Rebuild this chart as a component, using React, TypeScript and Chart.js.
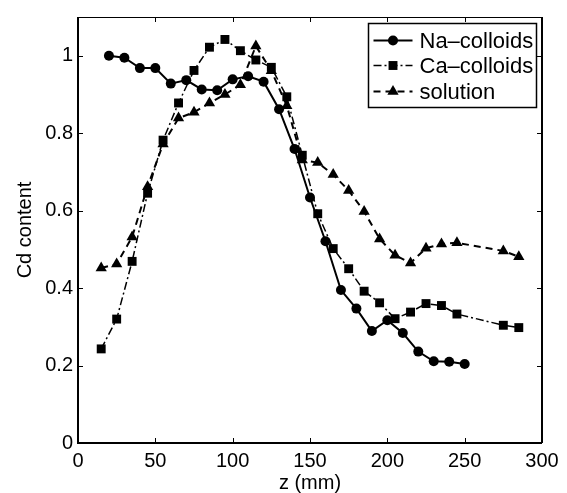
import React, { useEffect, useRef } from "react";
import { Chart, registerables } from "chart.js";

Chart.register(...registerables);

const FONT = "'Liberation Sans', Arial, Helvetica, sans-serif";

const seriesNames = ["Na–colloids", "Ca–colloids", "solution"];

const naX = [20, 30, 40, 50, 60, 70, 80, 90, 100, 110, 120, 130, 140, 150, 160, 170, 180, 190, 200, 210, 220, 230, 240, 250];
const naY = [1.0, 0.995, 0.968, 0.968, 0.928, 0.937, 0.913, 0.911, 0.939, 0.947, 0.933, 0.862, 0.759, 0.634, 0.521, 0.395, 0.347, 0.289, 0.317, 0.284, 0.236, 0.211, 0.21, 0.204];

const caX = [15, 25, 35, 45, 55, 65, 75, 85, 95, 105, 115, 125, 135, 145, 155, 165, 175, 185, 195, 205, 215, 225, 235, 245, 275, 285];
const caY = [0.243, 0.32, 0.469, 0.645, 0.782, 0.878, 0.962, 1.022, 1.042, 1.013, 0.989, 0.97, 0.894, 0.743, 0.592, 0.502, 0.45, 0.392, 0.362, 0.321, 0.338, 0.36, 0.355, 0.333, 0.304, 0.298];

const solX = [15, 25, 35, 45, 55, 65, 75, 85, 95, 105, 115, 125, 135, 145, 155, 165, 175, 185, 195, 205, 215, 225, 235, 245, 275, 285];
const solY = [0.452, 0.462, 0.532, 0.662, 0.772, 0.839, 0.854, 0.878, 0.9, 0.925, 1.025, 0.961, 0.871, 0.731, 0.724, 0.693, 0.652, 0.598, 0.527, 0.485, 0.465, 0.503, 0.514, 0.517, 0.496, 0.481];

const xTicks = [0, 50, 100, 150, 200, 250, 300];
const yTicks = [0, 0.2, 0.4, 0.6, 0.8, 1];

const xTitle = "z (mm)";
const yTitle = "Cd content";

function zip(xs: number[], ys: number[]) {
  return xs.map((x, i) => ({ x, y: ys[i] }));
}

function drawMarker(ctx: CanvasRenderingContext2D, style: string, x: number, y: number, r: number) {
  ctx.beginPath();
  if (style === "circle") {
    ctx.arc(x, y, r, 0, Math.PI * 2);
  } else if (style === "rect") {
    const s = Math.SQRT1_2 * r;
    ctx.rect(x - s, y - s, 2 * s, 2 * s);
  } else {
    const a = (Math.PI * 2) / 3;
    ctx.moveTo(x, y - r);
    ctx.lineTo(x + Math.sin(a) * r, y - Math.cos(a) * r);
    ctx.lineTo(x + Math.sin(2 * a) * r, y - Math.cos(2 * a) * r);
    ctx.closePath();
  }
  ctx.fill();
}

const framePlugin = {
  id: "frame",
  afterDraw(chart: any) {
    const { ctx, chartArea: a, scales } = chart;
    const xs = scales.x;
    const ys = scales.y;
    ctx.save();
    ctx.strokeStyle = "#000";
    ctx.setLineDash([]);
    // ticks (inward, all four sides)
    ctx.lineWidth = 1;
    const tl = 5;
    xTicks.forEach((v) => {
      const px = Math.round(xs.getPixelForValue(v)) + 0.5;
      ctx.beginPath();
      ctx.moveTo(px, a.bottom);
      ctx.lineTo(px, a.bottom - tl);
      ctx.moveTo(px, a.top);
      ctx.lineTo(px, a.top + tl);
      ctx.stroke();
    });
    yTicks.forEach((v) => {
      const py = Math.round(ys.getPixelForValue(v)) + 0.5;
      ctx.beginPath();
      ctx.moveTo(a.left, py);
      ctx.lineTo(a.left + tl, py);
      ctx.moveTo(a.right, py);
      ctx.lineTo(a.right - tl, py);
      ctx.stroke();
    });
    // box
    ctx.lineWidth = 1;
    ctx.beginPath();
    ctx.moveTo(a.left, a.top + 0.5);
    ctx.lineTo(a.right, a.top + 0.5);
    ctx.stroke();
    ctx.lineWidth = 2;
    ctx.beginPath();
    ctx.moveTo(a.right, a.top);
    ctx.lineTo(a.right, a.bottom);
    ctx.stroke();
    ctx.beginPath();
    ctx.moveTo(a.left, a.top);
    ctx.lineTo(a.left, a.bottom);
    ctx.lineTo(a.right, a.bottom);
    ctx.stroke();

    // legend
    const bw = 168;
    const bh = 84;
    const bx = a.right - 5.5 - bw;
    const by = a.top + 6.5;
    ctx.fillStyle = "#fff";
    ctx.fillRect(bx, by, bw, bh);
    ctx.lineWidth = 1.5;
    ctx.strokeRect(bx, by, bw, bh);
    const rowY = [17, 42, 68];
    chart.data.datasets.forEach((ds: any, i: number) => {
      const y = by + rowY[i];
      ctx.strokeStyle = "#000";
      ctx.fillStyle = "#000";
      ctx.lineWidth = ds.borderWidth;
      ctx.setLineDash(ds.borderDash || []);
      ctx.beginPath();
      ctx.moveTo(bx + 5, y);
      ctx.lineTo(bx + 44, y);
      ctx.stroke();
      ctx.setLineDash([]);
      drawMarker(ctx, ds.pointStyle, bx + 24.5, y, ds.pointRadius);
      ctx.font = `22px ${FONT}`;
      ctx.textBaseline = "middle";
      ctx.textAlign = "left";
      ctx.fillText(ds.label, bx + 51, y + 1);
    });
    ctx.restore();
  },
};

export default function App() {
  const ref = useRef<HTMLCanvasElement>(null);
  useEffect(() => {
    document.body.style.margin = "0";
    if (!ref.current) return;
    const tickFont = { family: FONT, size: 20 };
    const chart = new Chart(ref.current, {
      type: "line",
      data: {
        datasets: [
          {
            label: seriesNames[0],
            data: zip(naX, naY),
            borderColor: "#000",
            backgroundColor: "#000",
            borderWidth: 2,
            borderDash: [],
            pointStyle: "circle",
            pointRadius: 5,
            pointBorderWidth: 0,
            pointBackgroundColor: "#000",
            tension: 0,
          },
          {
            label: seriesNames[1],
            data: zip(caX, caY),
            borderColor: "#000",
            backgroundColor: "#000",
            borderWidth: 1.5,
            borderDash: [8, 3, 2, 3],
            pointStyle: "rect",
            pointRadius: 6.3,
            pointBorderWidth: 0,
            pointBackgroundColor: "#000",
            tension: 0,
          },
          {
            label: seriesNames[2],
            data: zip(solX, solY),
            borderColor: "#000",
            backgroundColor: "#000",
            borderWidth: 2,
            borderDash: [7, 5],
            pointStyle: "triangle",
            pointRadius: 6.5,
            pointBorderWidth: 0,
            pointBackgroundColor: "#000",
            tension: 0,
          },
        ] as any,
      },
      options: {
        animation: false,
        responsive: false,
        maintainAspectRatio: false,
        events: [],
        layout: { padding: { left: 0, top: 12, right: 25, bottom: 0 } },
        plugins: {
          legend: { display: false },
          tooltip: { enabled: false },
        },
        scales: {
          x: {
            type: "linear",
            min: 0,
            max: 300,
            afterBuildTicks: (s: any) => {
              s.ticks = xTicks.map((v) => ({ value: v }));
            },
            afterFit: (s: any) => {
              s.height = 50;
            },
            grid: { display: false, drawTicks: false },
            border: { display: false },
            ticks: {
              color: "#000",
              font: tickFont,
              padding: 6,
              maxRotation: 0,
              autoSkip: false,
              callback: (v: any) => String(v),
            },
            title: {
              display: true,
              text: xTitle,
              color: "#000",
              font: { family: FONT, size: 20, lineHeight: 1 },
              padding: { top: 0, bottom: 0 },
            },
          },
          y: {
            type: "linear",
            min: 0,
            max: 1.1,
            afterBuildTicks: (s: any) => {
              s.ticks = yTicks.map((v) => ({ value: v }));
            },
            afterFit: (s: any) => {
              s.width = 78;
            },
            grid: { display: false, drawTicks: false },
            border: { display: false },
            ticks: {
              color: "#000",
              font: tickFont,
              padding: 5,
              autoSkip: false,
              callback: (v: any) => String(Number(Number(v).toFixed(1))),
            },
            title: {
              display: true,
              text: yTitle,
              color: "#000",
              font: { family: FONT, size: 20, lineHeight: 1.2 },
              padding: { top: 13, bottom: 0 },
            },
          },
        },
      },
      plugins: [framePlugin],
    });
    return () => chart.destroy();
  }, []);
  return (
    <div style={{ position: "absolute", left: 0, top: 0, width: 567, height: 493 }}>
      <canvas ref={ref} width={567} height={493} style={{ display: "block" }} />
    </div>
  );
}
